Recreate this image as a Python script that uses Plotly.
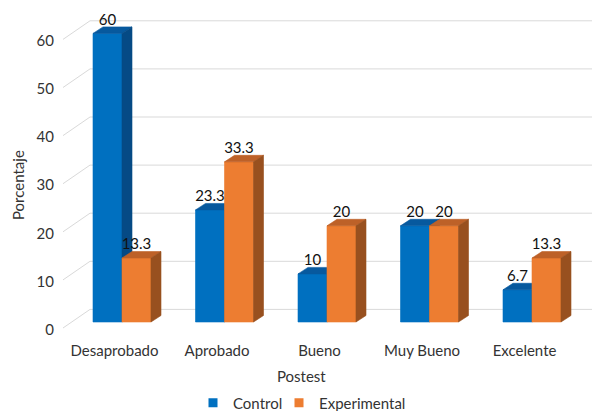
import plotly.graph_objects as go

# ---------------- data ----------------
categories = ["Desaprobado", "Aprobado", "Bueno", "Muy Bueno", "Excelente"]
control = [60, 23.3, 10, 20, 6.7]
experimental = [13.3, 33.3, 20, 20, 13.3]
y_ticks = [0, 10, 20, 30, 40, 50, 60]
series_names = ["Control", "Experimental"]

# ---------------- styling / geometry ----------------
W, H = 592, 411
L, R, T, B = 55, 0, 5, 71
PX_X = 102.5      # pixels per category
X0_PX = 122       # pixel of first category centre (front)
PX_Y = 4.81       # pixels per unit
Y0_PX = 322       # pixel of value 0 (front)

xr = [(L - X0_PX) / PX_X, (W - R - X0_PX) / PX_X]
yr = [(Y0_PX - (H - B)) / PX_Y, (Y0_PX - T) / PX_Y]

BW = 29 / PX_X          # bar width
DX = 10 / PX_X          # depth offset x
DY = 6.5 / PX_Y         # depth offset y
BACK_DX_L = (90 - X0_PX) / PX_X
FRONT_DX_L = (63 - X0_PX) / PX_X
BACK_DY = 12.6 / PX_Y
FRONT_DY = -6 / PX_Y
TICK_DY = -7.5 / PX_Y
LABEL_DY = 12.5 / PX_Y

colors = {
    "Control": ("#0070C0", "#07599E", "#054A85"),
    "Experimental": ("#ED7D31", "#BD6128", "#98501F"),
}
FONT = "Lato"
TXT = "#333333"

fig = go.Figure()

# gridlines (back wall) + floor diagonals
gx, gy = [], []
for v in y_ticks:
    gx += [FRONT_DX_L, BACK_DX_L, xr[1], None]
    gy += [v + FRONT_DY, v + BACK_DY, v + BACK_DY, None]
fig.add_trace(go.Scatter(x=gx, y=gy, mode="lines", line=dict(color="#D9D9D9", width=1),
                         hoverinfo="skip", showlegend=False))


def poly_trace(xs, ys, color):
    return go.Scatter(x=xs, y=ys, mode="lines", fill="toself", fillcolor=color,
                      line=dict(color=color, width=0.6), hoverinfo="skip",
                      showlegend=False)


for s_idx, (name, vals) in enumerate(zip(series_names, [control, experimental])):
    front_c, top_c, side_c = colors[name]
    fx, fy, tx, ty, sx, sy = [], [], [], [], [], []
    for i, v in enumerate(vals):
        x0 = i - BW if s_idx == 0 else i
        x1 = x0 + BW
        fx += [x0, x1, x1, x0, x0, None]
        fy += [0, 0, v, v, 0, None]
        tx += [x0, x1, x1 + DX, x0 + DX, x0, None]
        ty += [v, v, v + DY, v + DY, v, None]
        sx += [x1, x1 + DX, x1 + DX, x1, x1, None]
        sy += [0, DY, v + DY, v, 0, None]
    fig.add_trace(poly_trace(fx, fy, front_c))
    fig.add_trace(poly_trace(tx, ty, top_c))
    fig.add_trace(poly_trace(sx, sy, side_c))

# data labels
for s_idx, vals in enumerate([control, experimental]):
    xs = [(i - BW / 2) if s_idx == 0 else (i + BW / 2) for i in range(len(vals))]
    fig.add_trace(go.Scatter(
        x=xs, y=[v + LABEL_DY for v in vals], mode="text",
        text=[f"{v:g}" for v in vals], textposition="middle center",
        textfont=dict(family=FONT, size=15, color="#111111"),
        hoverinfo="skip", showlegend=False, cliponaxis=False))

# legend entries (one legend box per series so each can be placed)
legend_ids = ["legend", "legend2"]
for name, lid in zip(series_names, legend_ids):
    fig.add_trace(go.Scatter(x=[None], y=[None], mode="markers", name=name,
                             legend=lid,
                             marker=dict(symbol="square", size=9, color=colors[name][0])))

plot_w = W - L - R
plot_h = H - T - B
legend_y = -(403 - (H - B)) / plot_h
leg_common = dict(orientation="h", xanchor="left", y=legend_y, yanchor="middle",
                  bgcolor="rgba(0,0,0,0)",
                  font=dict(family=FONT, size=15, color=TXT))

fig.update_layout(
    width=W, height=H,
    margin=dict(l=L, r=R, t=T, b=B, pad=0, autoexpand=False),
    paper_bgcolor="white", plot_bgcolor="white",
    font=dict(family=FONT, size=15, color=TXT),
    xaxis=dict(range=xr, showgrid=False, zeroline=False, showline=False,
               tickmode="array", tickvals=[i - 0.073 for i in range(len(categories))],
               ticktext=categories, ticks="", fixedrange=True, automargin=False),
    yaxis=dict(range=yr, showgrid=False, zeroline=False, showline=False,
               tickmode="array", tickvals=[v + TICK_DY for v in y_ticks],
               ticktext=[str(v) for v in y_ticks], ticks="", fixedrange=True,
               automargin=False),
    legend=dict(x=(193 - L) / plot_w, **leg_common),
    legend2=dict(x=(279 - L) / plot_w, **leg_common),
    annotations=[
        dict(text="Porcentaje", xref="paper", yref="paper",
             x=(18 - L) / plot_w, y=((H - B) - 185) / plot_h, textangle=-90,
             showarrow=False, xanchor="center", yanchor="middle",
             font=dict(family=FONT, size=15, color=TXT)),
        dict(text="Postest", xref="paper", yref="paper",
             x=(301 - L) / plot_w, y=((H - B) - 376) / plot_h,
             showarrow=False, xanchor="center", yanchor="middle",
             font=dict(family=FONT, size=15, color=TXT)),
    ],
)

fig.write_html("out.html")
